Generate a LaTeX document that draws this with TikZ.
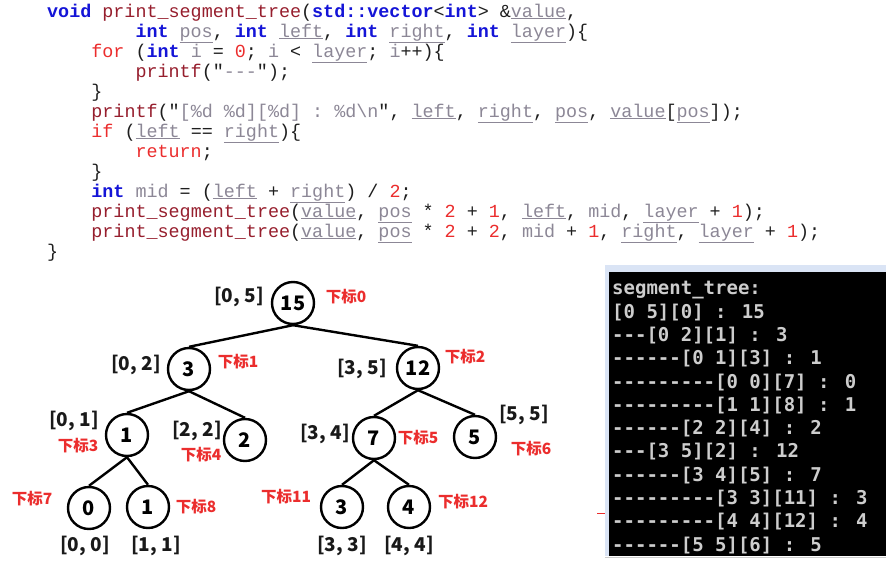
\documentclass[tikz,border=0pt]{standalone}
\usepackage{fontspec}
\setmonofont{Liberation Mono}
\newfontfamily\cjk{Noto Sans CJK SC}
\newfontfamily\termfont{DejaVu Sans Mono}
\usepackage{tikz}

\definecolor{kwblue}{RGB}{20,20,215}
\definecolor{fnred}{RGB}{150,30,45}
\definecolor{ctred}{RGB}{235,45,45}
\definecolor{pagray}{RGB}{140,135,150}
\definecolor{codeblack}{RGB}{30,30,30}
\definecolor{lblred}{RGB}{235,45,45}
\definecolor{termgray}{RGB}{205,205,205}
\definecolor{frameblue}{RGB}{218,228,245}

% code colouring
\newcommand\kw[1]{{\bfseries\color{kwblue}#1}}
\newcommand\fn[1]{{\color{fnred}#1}}
\newcommand\ct[1]{{\color{ctred}#1}}
\newcommand\pa[1]{{\color{pagray}\underline{#1}}}
\newcommand\vr[1]{{\color{pagray}#1}}
\newcommand\nm[1]{{\color{ctred}#1}}

\tikzset{
	seg/.style={circle, draw, line width=2.4pt, minimum size=42pt, inner sep=0pt, font=\cjk\bfseries\fontsize{20}{20}\selectfont},
	rng/.style={inner sep=0pt, font=\cjk\bfseries\fontsize{19}{19}\selectfont, text=black!90},
	idx/.style={inner sep=0pt, font=\cjk\bfseries\fontsize{15.5}{16}\selectfont, text=lblred},
	code/.style={anchor=base west, inner sep=0pt, font=\ttfamily\fontsize{18.4}{20}\selectfont, text=codeblack},
	term/.style={anchor=base west, inner sep=0pt, font=\termfont\bfseries\fontsize{19}{22}\selectfont, text=termgray},
	branch/.style={line width=2.4pt}
}

\begin{document}
\begin{tikzpicture}[x=1pt, y=-1pt]
	\useasboundingbox (0,0) rectangle (892,565);

	% source code
	\node[code] (c1) at (47,17) {\kw{void} \fn{print\_segment\_tree}(\kw{std::vector}<\kw{int}> \&\pa{value},};
	\node[code] (c2) at (135.3,37) {\kw{int} \pa{pos}, \kw{int} \pa{left}, \kw{int} \pa{right}, \kw{int} \pa{layer})\{};
	\node[code] (c3) at (91.2,57) {\ct{for} (\kw{int} \vr{i} = \nm{0}; \vr{i} < \pa{layer}; \vr{i}++)\{};
	\node[code] (c4) at (135.3,77) {\fn{printf}("\vr{---}");};
	\node[code] (c5) at (91.2,97) {\}};
	\node[code] (c6) at (91.2,117) {\fn{printf}("\vr{[\%d \%d][\%d] : \%d\textbackslash n}", \pa{left}, \pa{right}, \pa{pos}, \pa{value}[\pa{pos}]);};
	\node[code] (c7) at (91.2,137) {\ct{if} (\pa{left} == \pa{right})\{};
	\node[code] (c8) at (135.3,157) {\ct{return};};
	\node[code] (c9) at (91.2,177) {\}};
	\node[code] (c10) at (91.2,197) {\kw{int} \vr{mid} = (\pa{left} + \pa{right}) / \nm{2};};
	\node[code] (c11) at (91.2,217) {\fn{print\_segment\_tree}(\pa{value}, \pa{pos} * \nm{2} + \nm{1}, \pa{left}, \vr{mid}, \pa{layer} + \nm{1});};
	\node[code] (c12) at (91.2,237) {\fn{print\_segment\_tree}(\pa{value}, \pa{pos} * \nm{2} + \nm{2}, \vr{mid} + \nm{1}, \pa{right}, \pa{layer} + \nm{1});};
	\node[code] (c13) at (47,257) {\}};

	% tree
	\node[seg] (n0) at (293,303) {15};
	\node[seg] (n1) at (189,369) {3};
	\node[seg] (n2) at (418,368) {12};
	\node[seg] (n3) at (127,435) {1};
	\node[seg] (n4) at (245,440) {2};
	\node[seg] (n5) at (374,438) {7};
	\node[seg] (n6) at (475,437) {5};
	\node[seg] (n7) at (89,508) {0};
	\node[seg] (n8) at (148,507) {1};
	\node[seg] (n11) at (342,507) {3};
	\node[seg] (n12) at (409,507) {4};

	\draw[branch] (n0.south) -- (n1.north);
	\draw[branch] (n0.south) -- (n2.north);
	\draw[branch] (n1.south) -- (n3.north);
	\draw[branch] (n1.south) -- (n4.north);
	\draw[branch] (n2.south) -- (n5.north);
	\draw[branch] (n2.south) -- (n6.north);
	\draw[branch] (n3.south) -- (n7.north);
	\draw[branch] (n3.south) -- (n8.north);
	\draw[branch] (n5.south) -- (n11.north);
	\draw[branch] (n5.south) -- (n12.north);

	% intervals
	\node[rng] (r0) at (239,297) {[0, 5]};
	\node[rng] (r1) at (136,365) {[0, 2]};
	\node[rng] (r2) at (362,369) {[3, 5]};
	\node[rng] (r3) at (74,421) {[0, 1]};
	\node[rng] (r4) at (197,431) {[2, 2]};
	\node[rng] (r5) at (325,434) {[3, 4]};
	\node[rng] (r6) at (524,415) {[5, 5]};
	\node[rng] (r7) at (85,546) {[0, 0]};
	\node[rng] (r8) at (156,546) {[1, 1]};
	\node[rng] (r11) at (342,546) {[3, 3]};
	\node[rng] (r12) at (409,546) {[4, 4]};

	% indices
	\node[idx] (i0) at (346,297) {下标0};
	\node[idx] (i1) at (238,362) {下标1};
	\node[idx] (i2) at (465,357) {下标2};
	\node[idx] (i3) at (78,446) {下标3};
	\node[idx] (i4) at (201,455) {下标4};
	\node[idx] (i5) at (418,438) {下标5};
	\node[idx] (i6) at (531,449) {下标6};
	\node[idx] (i7) at (32,499) {下标7};
	\node[idx] (i8) at (196,507) {下标8};
	\node[idx] (i11) at (286,497) {下标11};
	\node[idx] (i12) at (463,502) {下标12};

	% console output
	\fill[frameblue] (605,265) rectangle (886,556);
	\fill[black] (609,272) rectangle (886,556);
	\draw[gray!40, line width=0.8pt] (605,557) -- (886,557);
	\draw[lblred, line width=1pt] (597,513) -- (605,513);
	\foreach \t [count=\i] in {segment\_tree:, {[0 5][0] : 15}, {---[0 2][1] : 3}, {------[0 1][3] : 1},
		{---------[0 0][7] : 0}, {---------[1 1][8] : 1}, {------[2 2][4] : 2}, {---[3 5][2] : 12},
		{------[3 4][5] : 7}, {---------[3 3][11] : 3}, {---------[4 4][12] : 4}, {------[5 5][6] : 5}} {
		\node[term] (t\i) at (612,271.5+23.3*\i) {\t};
	}
\end{tikzpicture}
\end{document}
